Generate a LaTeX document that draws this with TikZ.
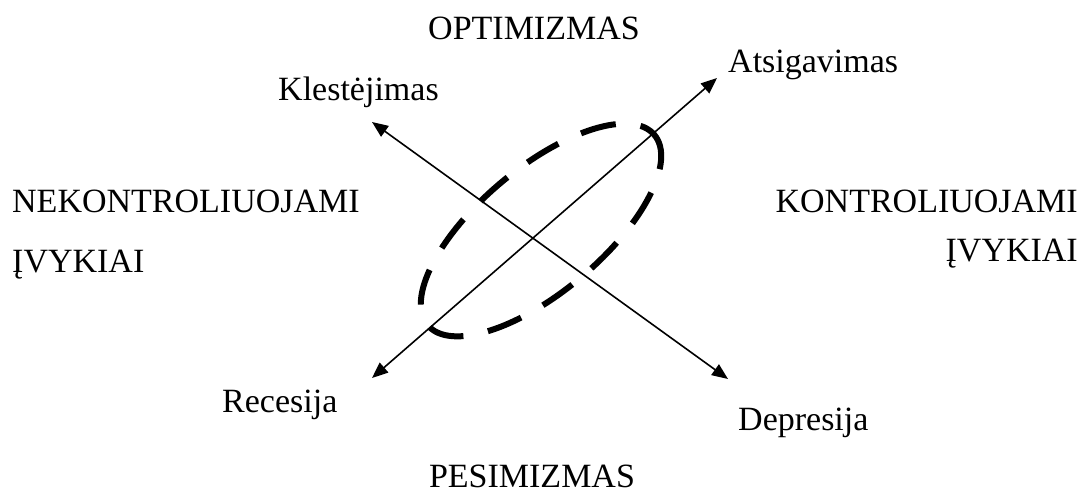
\documentclass[tikz,border=0pt]{standalone}
\usepackage{fontspec}
\setmainfont{Liberation Serif}
\usetikzlibrary{arrows.meta}

\begin{document}
\begin{tikzpicture}[x=1pt,y=-1pt,
  lbl/.style={inner sep=0pt, font=\fontsize{34}{40}\selectfont},
  axis/.style={line width=1.6pt, {Triangle[length=16pt,width=13pt]}-{Triangle[length=16pt,width=13pt]}},
  cycle/.style={line width=6pt, dash pattern=on 36pt off 25pt}]
  \useasboundingbox (0,0) rectangle (1081,495);

  % Labels
  \node[lbl, anchor=base] (opt) at (534,40) {OPTIMIZMAS};
  \node[lbl, anchor=base] (pes) at (532,487) {PESIMIZMAS};
  \node[lbl, anchor=base west] (nek1) at (12,212) {NEKONTROLIUOJAMI};
  \node[lbl, anchor=base west] (nek2) at (12,272) {ĮVYKIAI};
  \node[lbl, anchor=base east] (kon1) at (1078,212) {KONTROLIUOJAMI};
  \node[lbl, anchor=base east] (kon2) at (1078,261) {ĮVYKIAI};
  \node[lbl, anchor=base west] (kle) at (278,100) {Klestėjimas};
  \node[lbl, anchor=base west] (ats) at (728,72) {Atsigavimas};
  \node[lbl, anchor=base west] (rec) at (222,412) {Recesija};
  \node[lbl, anchor=base west] (dep) at (738,430) {Depresija};

  % Arrow tips
  \coordinate (recTip) at (372,378);
  \coordinate (atsTip) at (717,78);
  \coordinate (kleTip) at (372,122);
  \coordinate (depTip) at (728,379);

  \draw[axis] (recTip) -- (atsTip);
  \draw[axis] (kleTip) -- (depTip);

  % Dashed business-cycle loop
  \coordinate (loop) at (541,230);
  \draw[cycle] (loop) ellipse [x radius=148, y radius=62, rotate=40];
\end{tikzpicture}
\end{document}
